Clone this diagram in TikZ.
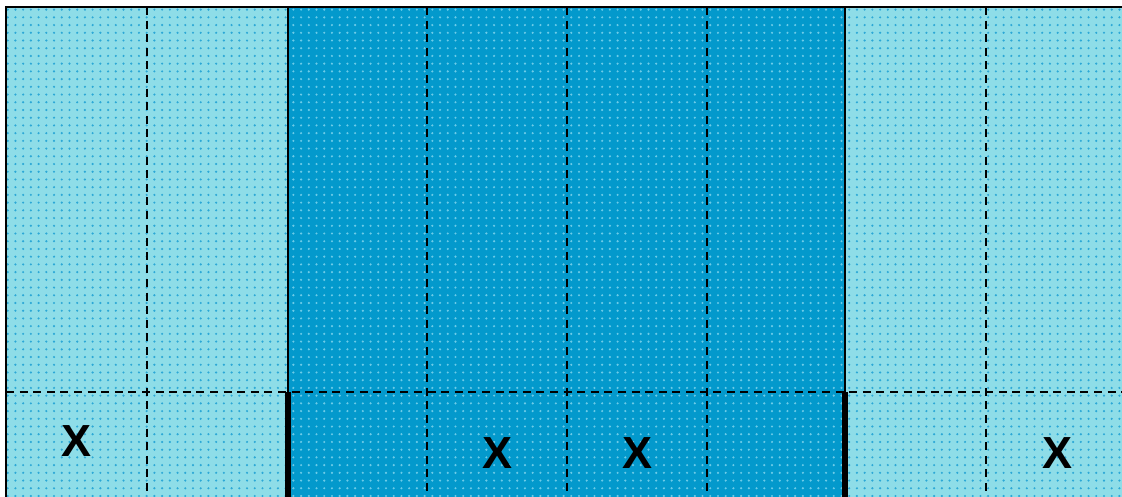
\documentclass[tikz,border=0pt]{standalone}
\usepackage{fontspec}
\setmainfont{Liberation Sans}
\usetikzlibrary{patterns.meta}

\definecolor{lightcell}{HTML}{8EDDE8}
\definecolor{lightdot}{HTML}{2CA8D6}
\definecolor{darkcell}{HTML}{0399CC}
\definecolor{darkdot}{HTML}{6CCBE8}

\begin{document}
\begin{tikzpicture}[
    x=0.25mm, y=-0.25mm,
    lightband/.style={fill=lightcell, postaction={pattern={Dots[distance=1.93mm, radius=0.3mm]}, pattern color=lightdot}},
    darkband/.style={fill=darkcell, postaction={pattern={Dots[distance=1.93mm, radius=0.3mm]}, pattern color=darkdot}},
    cellline/.style={draw=black, line width=1.5pt, dash pattern=on 2mm off 1.4mm},
    edge/.style={draw=black, line width=1.6pt},
    thickedge/.style={draw=black, line width=3.8pt},
    xmark/.style={font=\fontsize{32}{32}\selectfont\bfseries, inner sep=0pt}
]
\useasboundingbox (0,0) rectangle (1122,496);

% Bands
\path[lightband] (6,7) rectangle (288,500);
\path[darkband] (288,7) rectangle (845,500);
\path[lightband] (845,7) rectangle (1126,500);

% Dashed cell lines
\foreach \cx in {147,427,567,707,986}
    \draw[cellline] (\cx,7) -- (\cx,500);
\draw[cellline] (6,392) -- (1126,392);

% Band borders
\draw[edge] (288,7) -- (288,392);
\draw[edge] (845,7) -- (845,392);
\draw[thickedge] (288,392) -- (288,500);
\draw[thickedge] (845,392) -- (845,500);

% Outer frame
\draw[edge] (6,500) -- (6,7) -- (1126,7);

% Marks
\node[xmark] (x1) at (77,441) {X};
\node[xmark] (x2) at (497,453) {X};
\node[xmark] (x3) at (637,453) {X};
\node[xmark] (x4) at (1057,453) {X};

\end{tikzpicture}
\end{document}
